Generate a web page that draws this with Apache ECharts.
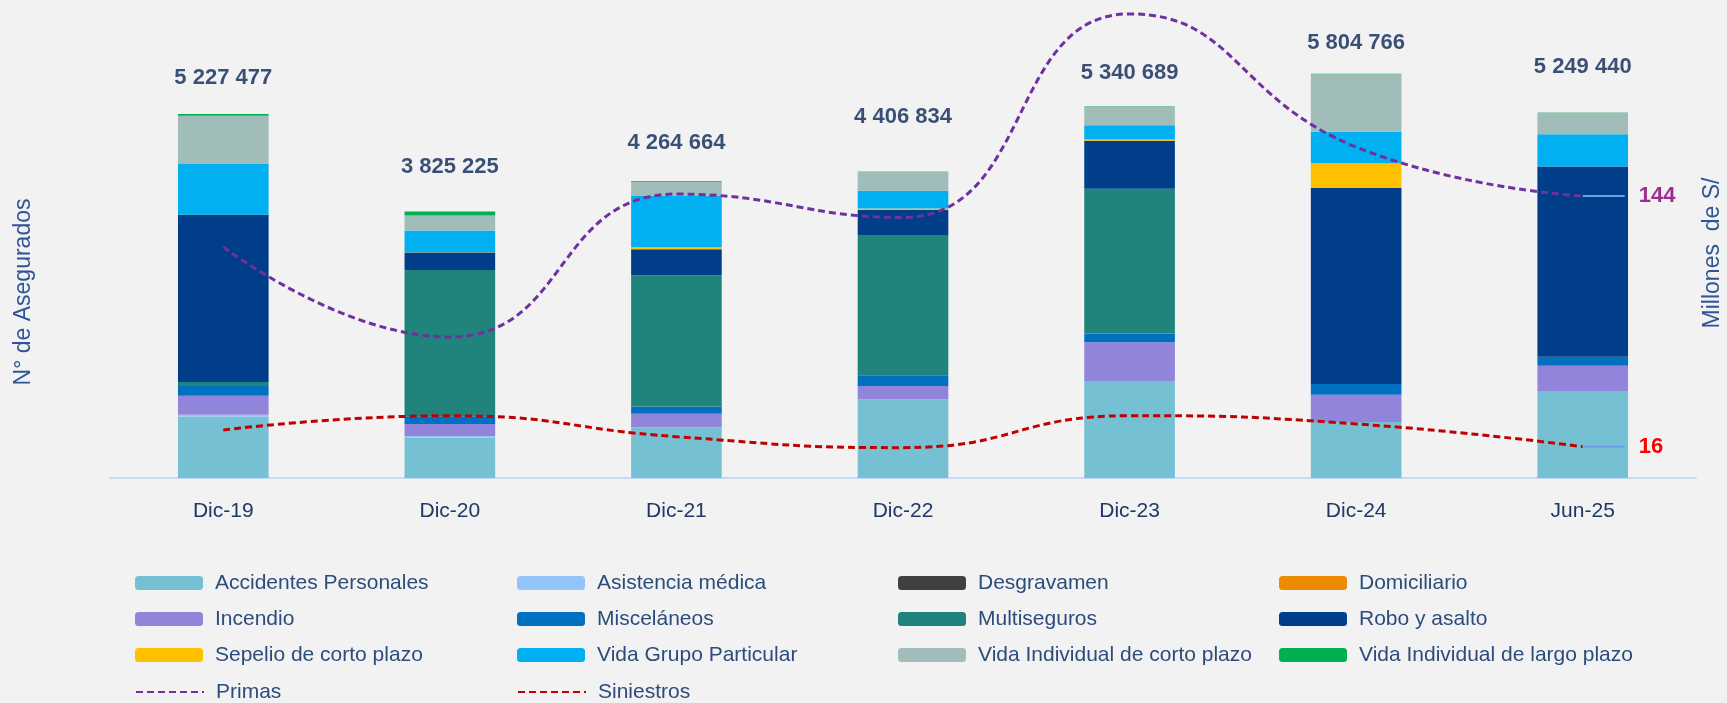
<!DOCTYPE html>
<html>
<head>
<meta charset="utf-8">
<script src="https://cdn.jsdelivr.net/npm/echarts@6/dist/echarts.min.js"></script>
<style>
  html, body { margin: 0; padding: 0; background: #f2f2f2; }
  #chart-asegurados { width: 1727px; height: 703px; }
</style>
</head>
<body>
<div id="chart-asegurados"></div>
<script>
// categorias
var periodos = ['Dic-19', 'Dic-20', 'Dic-21', 'Dic-22', 'Dic-23', 'Dic-24', 'Jun-25'];

// asegurados por ramo
var accidentesPersonales = [880000, 580000, 722000, 1130000, 1392000, 805000, 1250000];
var asistenciaMedica     = [28000, 24000, 4000, 0, 0, 0, 0];
var desgravamen          = [0, 0, 0, 0, 0, 0, 0];
var domiciliario         = [0, 0, 0, 0, 0, 0, 0];
var incendio             = [272000, 172000, 196000, 191000, 559000, 391000, 363000];
var miscelaneos          = [143000, 110000, 105000, 153000, 124000, 153000, 129000];
var multiseguros         = [57000, 2103000, 1885000, 2016000, 2078000, 0, 0];
var roboAsalto           = [2400000, 248000, 374000, 360000, 690000, 2818000, 2730000];
var sepelioCorto         = [0, 4000, 29000, 19000, 19000, 354000, 3000];
var vidaGrupo            = [728000, 315000, 742000, 258000, 205000, 450000, 463000];
var vidaIndCorto         = [695000, 215000, 196000, 277000, 273000, 827000, 306000];
var vidaIndLargo         = [24000, 57000, 12000, 3000, 1000, 7000, 5000];

// totales de asegurados
var totales = [5227477, 3825225, 4264664, 4406834, 5340689, 5804766, 5249440];

// millones de S/
var primas     = [118, 72, 145, 133, 237, 169, 144];
var siniestros = [24.5, 31.8, 21.1, 15.5, 31.8, 27.6, 16];

// separacion de la etiqueta de total sobre la barra (px)
var labelLift = [36, 45, 38, 54, 33, 31, 46];

var ramos = [
    {name: 'Accidentes Personales', data: accidentesPersonales, color: '#76c0d4'},
    {name: 'Asistencia médica', data: asistenciaMedica, color: '#93c5fa'},
    {name: 'Desgravamen', data: desgravamen, color: '#404040'},
    {name: 'Domiciliario', data: domiciliario, color: '#ed8b00'},
    {name: 'Incendio', data: incendio, color: '#9085da'},
    {name: 'Misceláneos', data: miscelaneos, color: '#0070c0'},
    {name: 'Multiseguros', data: multiseguros, color: '#20837c'},
    {name: 'Robo y asalto', data: roboAsalto, color: '#003e8a'},
    {name: 'Sepelio de corto plazo', data: sepelioCorto, color: '#ffc000'},
    {name: 'Vida Grupo Particular', data: vidaGrupo, color: '#00b0f0'},
    {name: 'Vida Individual de corto plazo', data: vidaIndCorto, color: '#a0bdba'},
    {name: 'Vida Individual de largo plazo', data: vidaIndLargo, color: '#00b050'}
];

function miles(n) {
    return String(n).replace(/\B(?=(\d{3})+(?!\d))/g, ' ');
}

var fuente = '"Liberation Sans", Arial, sans-serif';
var colorTexto = '#2c4c7c';

var series = ramos.map(function (r) {
    return {
        name: r.name,
        type: 'bar',
        stack: 'asegurados',
        barWidth: '40%',
        legendIcon: 'rect',
        itemStyle: {color: r.color},
        emphasis: {disabled: true},
        data: r.data
    };
});

// etiquetas de total
series.push({
    name: 'Total',
    type: 'scatter',
    symbolSize: 0,
    silent: true,
    z: 10,
    label: {
        show: true,
        position: 'inside',
        fontFamily: fuente,
        fontWeight: 'bold',
        fontSize: 22,
        color: '#0b2555',
        formatter: function (p) { return miles(p.value); }
    },
    data: totales.map(function (v, i) {
        return {value: v, label: {offset: [0, -labelLift[i]]}};
    })
});

function lineaMillones(nombre, valores, color, colorEtiqueta) {
    return {
        name: nombre,
        type: 'line',
        yAxisIndex: 1,
        smooth: true,
        symbol: 'none',
        z: 5,
        lineStyle: {color: color, width: 3, type: [7, 4]},
        itemStyle: {color: color},
        endLabel: {
            show: true,
            distance: 0,
            formatter: function (p) { return '{ln|}{v|' + p.value + '}'; },
            rich: {
                ln: {width: 42, height: 2, backgroundColor: '#6f9be8', verticalAlign: 'middle'},
                v: {
                    color: colorEtiqueta, fontSize: 22, fontWeight: 'bold',
                    fontFamily: fuente, padding: [0, 0, 0, 14], verticalAlign: 'middle'
                }
            }
        },
        data: valores
    };
}

series.push(lineaMillones('Primas', primas, '#7030a0', '#a02b93'));
series.push(lineaMillones('Siniestros', siniestros, '#c00000', '#ff0000'));

var columnas = [
    {left: 135, top: 572, items: ['Accidentes Personales', 'Incendio', 'Sepelio de corto plazo']},
    {left: 517, top: 572, items: ['Asistencia médica', 'Misceláneos', 'Vida Grupo Particular']},
    {left: 898, top: 572, items: ['Desgravamen', 'Multiseguros', 'Vida Individual de corto plazo']},
    {left: 1279, top: 572, items: ['Domiciliario', 'Robo y asalto', 'Vida Individual de largo plazo']},
    {left: 135, top: 681, items: [{name: 'Primas', itemStyle: {opacity: 0}}]},
    {left: 517, top: 681, items: [{name: 'Siniestros', itemStyle: {opacity: 0}}]}
];

var leyendas = columnas.map(function (c) {
    return {
        orient: 'vertical',
        left: c.left,
        top: c.top,
        padding: 0,
        itemWidth: 68,
        itemHeight: 14,
        itemGap: 14,
        selectedMode: false,
        textStyle: {
            fontFamily: fuente, fontSize: 21, lineHeight: 22,
            color: colorTexto, padding: [0, 0, 0, 7]
        },
        data: c.items
    };
});

var chartAsegurados = echarts.init(document.getElementById('chart-asegurados'));

var optionAsegurados = {
    backgroundColor: '#f2f2f2',
    animation: false,
    legend: leyendas,
    grid: {left: 110, right: 31, top: 8, bottom: 225, outerBoundsMode: 'none'},
    xAxis: [{
        type: 'category',
        data: periodos,
        axisLine: {lineStyle: {color: '#c5d9f8', width: 2}},
        axisTick: {show: false},
        axisLabel: {fontFamily: fuente, fontSize: 21, color: '#1f3864', margin: 23}
    }],
    yAxis: [
        {type: 'value', min: 0, max: 6750000, show: false, splitLine: {show: false}},
        {type: 'value', min: 0, max: 240, show: false, splitLine: {show: false}}
    ],
    graphic: [
        {
            type: 'text', x: 24, y: 292, rotation: Math.PI / 2,
            style: {text: 'N° de Asegurados', fill: '#2f5597', font: '23px ' + fuente,
                    align: 'center', verticalAlign: 'middle'}
        },
        {
            type: 'text', x: 1713, y: 253, rotation: Math.PI / 2,
            style: {text: 'Millones  de S/', fill: '#2f5597', font: '23px ' + fuente,
                    align: 'center', verticalAlign: 'middle'}
        }
    ],
    series: series
};

chartAsegurados.setOption(optionAsegurados);
window.addEventListener('resize', function () {
    chartAsegurados.resize();
});
</script>
</body>
</html>
